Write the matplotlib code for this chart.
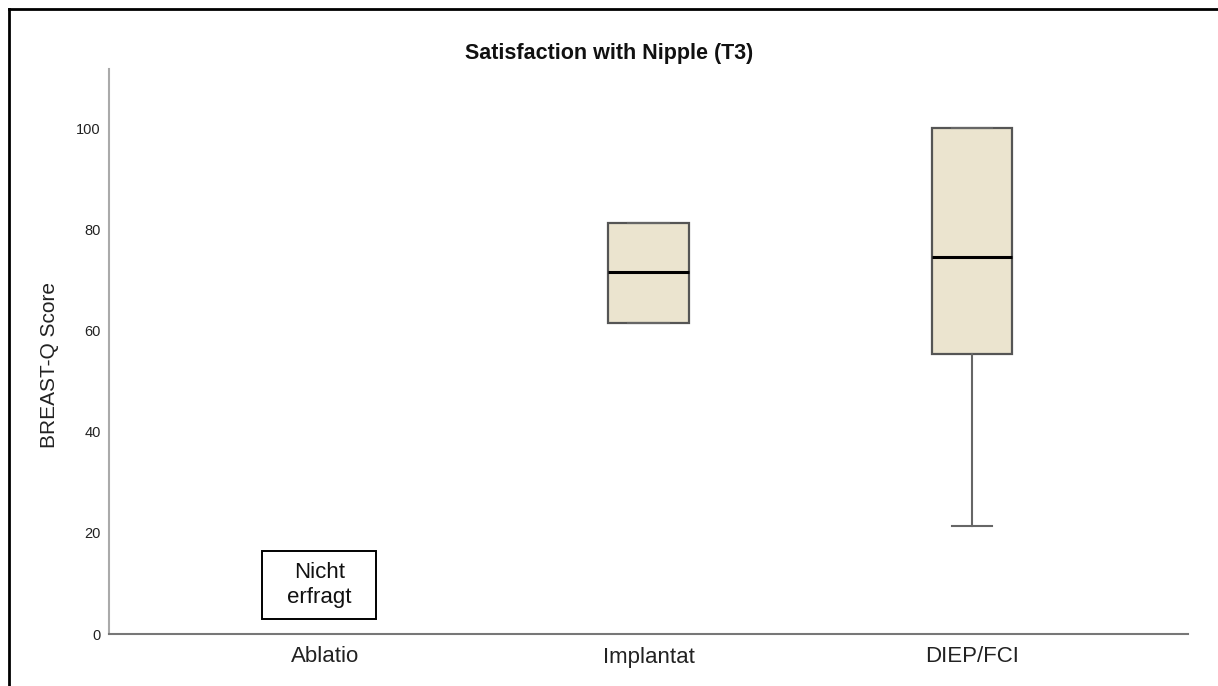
import matplotlib
matplotlib.use("Agg")
import matplotlib.pyplot as plt
from matplotlib.lines import Line2D
from matplotlib.patches import Rectangle

plt.rcParams['font.family'] = ['Liberation Sans', 'DejaVu Sans']

groups = ["Ablatio", "Implantat", "DIEP/FCI"]
q1 = [None, 61.5, 55.3]
median = [None, 71.5, 74.5]
q3 = [None, 81.3, 100.0]
whisker_low = [None, 61.5, 21.3]
whisker_high = [None, 81.3, 100.0]
yticks = [0, 20, 40, 60, 80, 100]

fig = plt.figure(figsize=(12.18, 6.86), dpi=100)
ax = fig.add_axes([109 / 1218, 1 - 634 / 686, (1188 - 109) / 1218, (634 - 69) / 686])

stats, positions = [], []
for i, g in enumerate(groups):
    if median[i] is None:
        continue
    stats.append(dict(label=g, q1=q1[i], med=median[i], q3=q3[i],
                      whislo=whisker_low[i], whishi=whisker_high[i], fliers=[]))
    positions.append(i)

ax.bxp(stats, positions=positions, widths=0.25, patch_artist=True,
       showfliers=False,
       boxprops=dict(facecolor="#ebe4cf", edgecolor="#555555", linewidth=1.6),
       medianprops=dict(color="black", linewidth=2.2),
       whiskerprops=dict(color="#666666", linewidth=1.5),
       capprops=dict(color="#666666", linewidth=1.5),
       capwidths=0.125)

ax.set_xlim(-0.668, 2.668)
ax.set_ylim(0, 111.7)
ax.set_xticks(range(len(groups)))
ax.set_xticklabels(groups, fontsize=16, color="#222222")
ax.set_yticks(yticks)
ax.set_yticklabels([str(t) for t in yticks], fontsize=10.5, color="#222222")
ax.tick_params(axis="both", length=0)
ax.tick_params(axis="y", pad=6)
ax.tick_params(axis="x", pad=9)

for side in ("top", "right"):
    ax.spines[side].set_visible(False)
ax.spines["left"].set_color("#aaaaaa")
ax.spines["left"].set_linewidth(1.5)
ax.spines["bottom"].set_color("#777777")
ax.spines["bottom"].set_linewidth(1.5)

ax.set_ylabel("BREAST-Q Score", fontsize=15, color="#222222")
ax.yaxis.set_label_coords(-0.046, 0.476)

# note for the group without data
ax.add_patch(Rectangle((-0.195, 2.96), 0.353, 13.45, facecolor="white",
                       edgecolor="black", linewidth=1.4, zorder=3))
ax.text(-0.018, 9.7, "Nicht\nerfragt", ha="center", va="center", fontsize=16,
        linespacing=1.25, color="#111111", zorder=4)

fig.text(0.5, 1 - 53 / 686, "Satisfaction with Nipple (T3)", ha="center",
         va="center", fontsize=15.5, fontweight="bold", color="#111111")

# outer frame (top and left edges)
fig.add_artist(Line2D([9 / 1218, 1.0], [1 - 9 / 686, 1 - 9 / 686],
                      transform=fig.transFigure, color="black", linewidth=2))
fig.add_artist(Line2D([9 / 1218, 9 / 1218], [0.0, 1 - 9 / 686],
                      transform=fig.transFigure, color="black", linewidth=2))

fig.savefig("out.png", dpi=100)
